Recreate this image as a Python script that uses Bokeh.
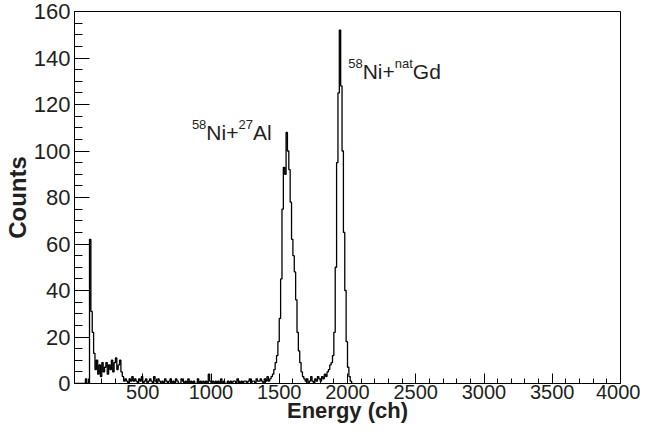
import numpy as np
from bokeh.plotting import figure
from bokeh.models import FixedTicker, Label, Range1d
from bokeh.embed import file_html
from bokeh.resources import INLINE

# ---------------- data (counts per 10-channel bin, starting at channel 0) ----
bin_width = 10
counts_low = [0, 0, 0, 0, 0, 0, 0, 0, 2, 0, 0]                      # ch 0-110
counts_spike = [62, 31, 22, 13]                                       # ch 110-150
counts_noise = [6, 10, 4, 8, 3, 9, 5, 7, 9, 4, 8, 6, 10, 5, 9, 11, 6, 8, 10, 5]  # ch 150-350
counts_flat = [3, 1, 2, 1, 0, 2, 1, 3, 1, 2,
               1, 0, 2, 1, 3, 0, 1, 2, 0, 1,
               2, 1, 0, 3, 1, 0, 2, 1, 0, 1,
               0, 2, 1, 0, 1, 2, 0, 1, 0, 2,
               1, 0, 0, 2, 1, 0, 1, 0, 2, 0,
               1, 0, 1, 0, 0, 2, 0, 1, 0, 1,
               0, 1, 0, 4, 1, 0, 1, 0, 1, 0,
               1, 0, 2, 0, 1, 0, 0, 1, 0, 1,
               0, 1, 1, 0, 2, 1, 0, 1, 0, 1,
               1, 0, 1, 2, 0, 1, 1, 0, 2, 1,
               1, 2, 1, 0, 2, 1, 3, 1, 2, 3]                          # ch 350-1450
counts_al = [4, 6, 9, 12, 18, 28, 45, 75, 93, 90, 108, 100, 92, 78, 62,
             55, 48, 36, 22, 14, 9, 5, 3, 2, 1]                       # ch 1450-1700
counts_valley = [2, 0, 1, 3, 1, 0, 2, 1, 3, 2, 1, 3, 2, 4, 3, 5, 6, 8]  # ch 1700-1880
counts_gd = [9, 12, 22, 50, 95, 125, 152, 128, 100, 65, 40, 18, 7, 3, 1, 0]  # ch 1880-2040

counts = counts_low + counts_spike + counts_noise + counts_flat + counts_al + counts_valley + counts_gd

x_start, x_end = 0, 4000
y_start, y_end = 0, 160
x_ticks = list(range(0, 4001, 500))
x_minor = list(range(0, 4001, 100))
y_ticks = list(range(0, 161, 20))
y_minor = list(range(0, 161, 5))

x_title = "Energy (ch)"
y_title = "Counts"

# annotation pieces: (text, is_superscript)
al_label = [("58", True), ("Ni+", False), ("27", True), ("Al", False)]
al_label_pos = (860, 108)
gd_label = [("58", True), ("Ni+", False), ("nat", True), ("Gd", False)]
gd_label_pos = (2005, 134)

# ---------------- figure ----------------
FONT = "Liberation Sans"
TXT = "#231f20"

p = figure(width=640, height=425, output_backend="svg", toolbar_location=None,
           x_range=Range1d(x_start, x_end), y_range=Range1d(y_start, y_end),
           min_border_left=68, min_border_right=20, min_border_top=11,
           min_border_bottom=39)
p.background_fill_color = "white"
p.border_fill_color = "white"
p.outline_line_color = "black"
p.outline_line_width = 1
p.outline_line_alpha = 1
p.xgrid.visible = False
p.ygrid.visible = False

edges = np.arange(len(counts) + 1) * bin_width
p.step(x=edges, y=counts + [0], mode="after", line_color="black", line_width=1.3)

for ax in (p.xaxis[0], p.yaxis[0]):
    ax.axis_line_color = "black"
    ax.major_tick_out = 0
    ax.minor_tick_out = 0
    ax.major_tick_line_color = "black"
    ax.minor_tick_line_color = "black"
    ax.major_label_text_font = FONT
    ax.major_label_text_color = TXT
    ax.axis_label_text_font = FONT
    ax.axis_label_text_font_style = "bold"
    ax.axis_label_text_color = TXT

p.xaxis.ticker = FixedTicker(ticks=x_ticks, minor_ticks=x_minor)
p.xaxis.major_label_overrides = {0: ""}
p.xaxis.major_tick_in = 10
p.xaxis.minor_tick_in = 5
p.xaxis.major_label_text_font_size = "20px"
p.xaxis.major_label_standoff = 1
p.xaxis.axis_label = x_title
p.xaxis.axis_label_text_font_size = "22px"
p.xaxis.axis_label_standoff = -4

p.yaxis.ticker = FixedTicker(ticks=y_ticks, minor_ticks=y_minor)
p.yaxis.major_tick_in = 15
p.yaxis.minor_tick_in = 8
p.yaxis.major_label_text_font_size = "22px"
p.yaxis.major_label_standoff = 4
p.yaxis.axis_label = y_title
p.yaxis.axis_label_text_font_size = "24px"
p.yaxis.axis_label_standoff = 0

# ---------------- annotations with superscripts ----------------
WIDTHS = {"0": .556, "1": .556, "2": .556, "3": .556, "4": .556, "5": .556,
          "6": .556, "7": .556, "8": .556, "9": .556, "N": .722, "i": .222,
          "+": .584, "A": .667, "l": .222, "G": .778, "d": .556, "n": .556,
          "a": .556, "t": .278}
MAIN, SUP = 21, 13


def add_label(pieces, pos):
    off = 0.0
    for text, sup in pieces:
        size = SUP if sup else MAIN
        p.add_layout(Label(x=pos[0], y=pos[1], x_offset=off,
                           y_offset=(8 if sup else 0), text=text,
                           text_font=FONT, text_font_size=f"{size}px",
                           text_color=TXT, text_baseline="alphabetic",
                           text_align="left"))
        off += sum(WIDTHS.get(c, .556) for c in text) * size


add_label(al_label, al_label_pos)
add_label(gd_label, gd_label_pos)

open("out.html", "w").write(file_html(p, INLINE))
